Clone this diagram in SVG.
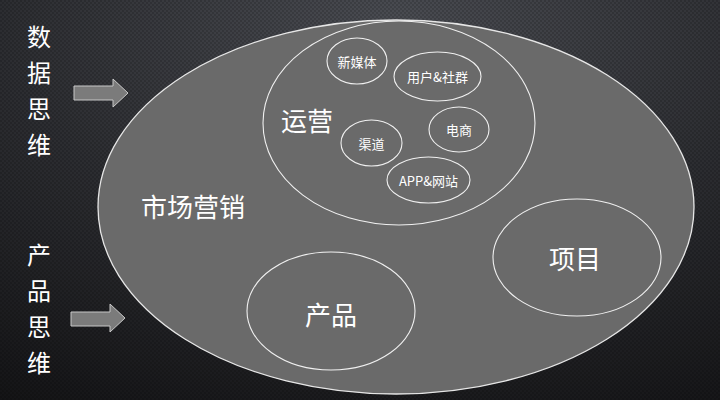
<svg xmlns="http://www.w3.org/2000/svg" width="720" height="400" viewBox="0 0 720 400">
  <defs>
    <radialGradient id="bg" cx="0.55" cy="0.05" r="1.1">
      <stop offset="0" stop-color="#4a4c52"/>
      <stop offset="0.5" stop-color="#2c2d31"/>
      <stop offset="1" stop-color="#141416"/>
    </radialGradient>
    <pattern id="dots" width="4" height="4" patternUnits="userSpaceOnUse">
      <circle cx="1" cy="1" r="0.8" fill="#000" opacity="0.35"/>
      <circle cx="3" cy="3" r="0.8" fill="#000" opacity="0.35"/>
    </pattern>
  </defs>
  <style>
    .blob { fill: #6a6a6a; stroke: #e6e6e6; stroke-width: 1.3; }
    .inner { fill: #6a6a6a; stroke: #f0f0f0; stroke-width: 1.1; }
    .arrow { fill: #7b7b7b; stroke: #c8c8c8; stroke-width: 1; }
    text { font-family: "Noto Sans CJK SC", "Noto Sans", sans-serif; fill: #ffffff; text-anchor: middle; dominant-baseline: central; }
    .big { font-size: 26px; }
    .side { font-size: 24px; }
    .small { font-size: 13px; }
  </style>
  <rect width="720" height="400" fill="url(#bg)"/>
  <rect width="720" height="400" fill="url(#dots)"/>

  <g id="marketing">
    <ellipse class="blob" cx="396" cy="207" rx="298" ry="187"/>
    <text class="big" x="193" y="205">市场营销</text>
  </g>
  <g id="operations">
    <ellipse class="inner" cx="399" cy="123" rx="136" ry="102"/>
    <text class="big" x="307" y="119">运营</text>
  </g>
  <g id="newmedia">
    <ellipse class="inner" cx="357" cy="61" rx="30" ry="23"/>
    <text class="small" x="357" y="61">新媒体</text>
  </g>
  <g id="users">
    <ellipse class="inner" cx="437.5" cy="76.5" rx="43.5" ry="24.5"/>
    <text class="small" x="437.5" y="76.5">用户&amp;社群</text>
  </g>
  <g id="ecommerce">
    <ellipse class="inner" cx="459" cy="129.5" rx="30" ry="22.5"/>
    <text class="small" x="459" y="129.5">电商</text>
  </g>
  <g id="channels">
    <ellipse class="inner" cx="371.5" cy="143" rx="30.5" ry="23"/>
    <text class="small" x="371.5" y="143">渠道</text>
  </g>
  <g id="app">
    <ellipse class="inner" cx="428.5" cy="180" rx="41.5" ry="23"/>
    <text class="small" x="428.5" y="180">APP&amp;网站</text>
  </g>
  <g id="project">
    <ellipse class="inner" cx="577" cy="257.5" rx="84" ry="58.5"/>
    <text class="big" x="575" y="257">项目</text>
  </g>
  <g id="product">
    <ellipse class="inner" cx="331" cy="311" rx="84" ry="59"/>
    <text class="big" x="331" y="313">产品</text>
  </g>

  <g id="data-thinking">
    <text class="side" x="39" y="35">数</text>
    <text class="side" x="39" y="71">据</text>
    <text class="side" x="39" y="107">思</text>
    <text class="side" x="39" y="143">维</text>
  </g>
  <g id="product-thinking">
    <text class="side" x="39" y="253">产</text>
    <text class="side" x="39" y="289">品</text>
    <text class="side" x="39" y="325">思</text>
    <text class="side" x="39" y="361">维</text>
  </g>

  <g id="connectors">
    <polygon class="arrow" points="74,86 113,86 113,79 128,93 113,107 113,100 74,100"/>
    <polygon class="arrow" points="71,312 110,312 110,304 125,318 110,332 110,326 71,326"/>
  </g>
</svg>
